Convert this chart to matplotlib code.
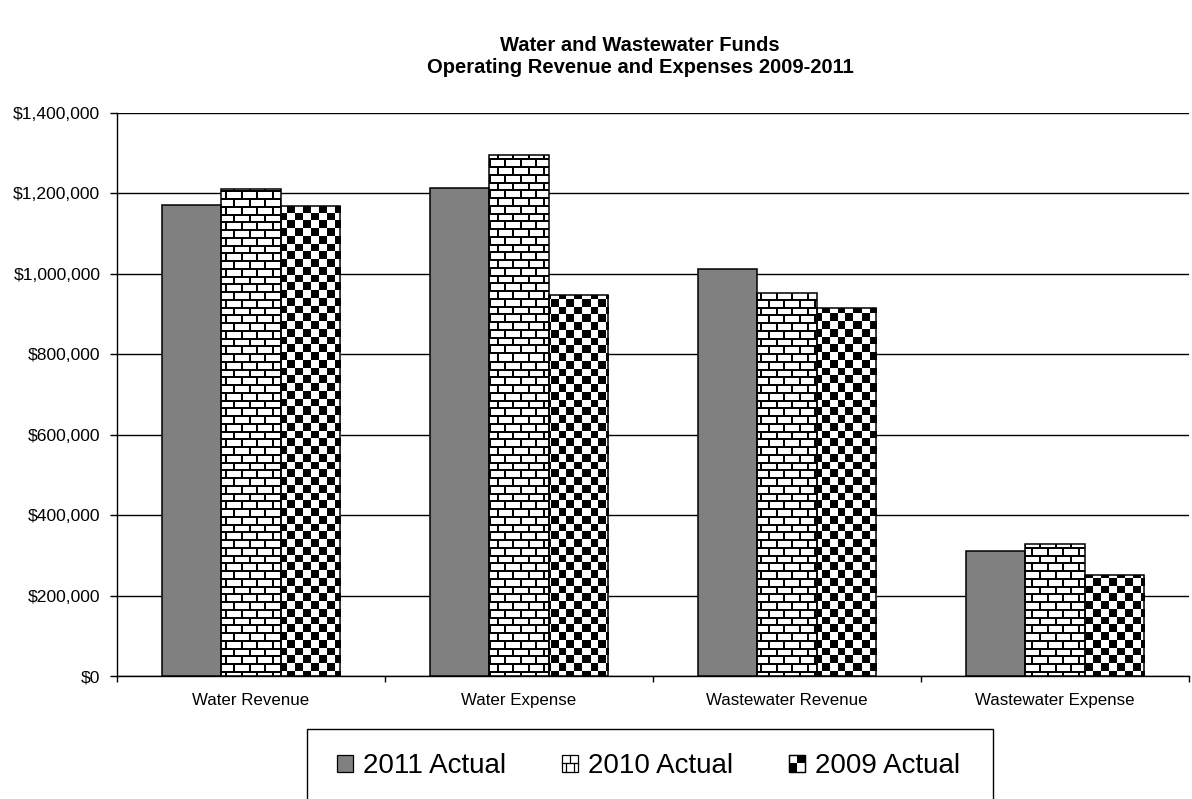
import numpy as np
import matplotlib
matplotlib.use("Agg")
import matplotlib.pyplot as plt
from matplotlib.patches import Rectangle
from matplotlib.lines import Line2D
from matplotlib.legend_handler import HandlerBase
from matplotlib.ticker import FuncFormatter, FixedLocator

plt.rcParams['font.family'] = ['Liberation Sans', 'DejaVu Sans']

# ---- data ----
categories = ["Water Revenue", "Water Expense", "Wastewater Revenue", "Wastewater Expense"]
actual_2011 = [1172000, 1214000, 1012000, 311000]
actual_2010 = [1211000, 1296000, 952000, 328000]
actual_2009 = [1169000, 947000, 916000, 251000]
series_labels = ["2011 Actual", "2010 Actual", "2009 Actual"]
y_ticks = [0, 200000, 400000, 600000, 800000, 1000000, 1200000, 1400000]

title_text = "Water and Wastewater Funds\nOperating Revenue and Expenses 2009-2011"

# ---- figure / axes ----
FW, FH = 1192, 799
fig = plt.figure(figsize=(FW / 100, FH / 100), dpi=100)
ax_left, ax_right, ax_top, ax_bottom = 117, 1189, 113, 676
ax = fig.add_axes([ax_left / FW, 1 - ax_bottom / FH,
                   (ax_right - ax_left) / FW, (ax_bottom - ax_top) / FH])

n = len(categories)
x = np.arange(n)
w = 1 / 4.5
xlim = (-0.5, n - 0.5)
ylim = (0, y_ticks[-1])

# ---- fill textures in screen pixels ----
PW, PH = ax_right - ax_left, ax_bottom - ax_top
yy, xx = np.mgrid[0:PH, 0:PW] + 0.5
cell = 7.75


def brick_texture():
    row = np.floor(yy / cell)
    hline = (yy % cell) < 2.0
    shift = (row % 2) * cell
    vline = ((xx + shift) % (2 * cell)) < 2.0
    dark = hline | vline
    img = np.where(dark, 0.0, 1.0)
    return np.dstack([img, img, img])


def checker_texture():
    dark = ((np.floor(xx / cell) + np.floor(yy / cell)) % 2) == 0
    img = np.where(dark, 0.0, 1.0)
    return np.dstack([img, img, img])


textures = {"brick": brick_texture(), "checker": checker_texture()}

series = [
    (actual_2011, "solid"),
    (actual_2010, "brick"),
    (actual_2009, "checker"),
]
offsets = [-w, 0, w]

for (vals, kind), off in zip(series, offsets):
    face = "#808080" if kind == "solid" else "none"
    bars = ax.bar(x + off, vals, width=w, facecolor=face, edgecolor="black",
                  linewidth=1.1, zorder=3)
    if kind != "solid":
        for b in bars:
            im = ax.imshow(textures[kind], extent=(xlim[0], xlim[1], ylim[0], ylim[1]),
                           origin="upper", aspect="auto", interpolation="nearest",
                           zorder=2.5)
            im.set_clip_path(b)

ax.set_xlim(*xlim)
ax.set_ylim(*ylim)
ax.set_aspect("auto")

# ---- axes styling ----
ax.set_yticks(y_ticks)
ax.yaxis.set_major_formatter(FuncFormatter(lambda v, p: f"${v:,.0f}"))
ax.grid(axis="y", color="black", linewidth=1.0, zorder=1)
ax.set_axisbelow(True)
for s in ["top", "right"]:
    ax.spines[s].set_visible(False)
ax.spines["left"].set_linewidth(1.0)
ax.spines["bottom"].set_linewidth(1.0)
ax.tick_params(axis="y", direction="out", length=5, width=1.0, pad=7,
               labelsize=12.6)

ax.set_xticks(x)
ax.set_xticklabels(categories)
ax.xaxis.set_minor_locator(FixedLocator(np.arange(n + 1) - 0.5))
ax.tick_params(axis="x", which="major", length=0, pad=12, labelsize=12.2)
ax.tick_params(axis="x", which="minor", direction="out", length=4.5, width=1.0)

# ---- title ----
fig.text(640 / FW, 1 - 56.5 / FH, title_text, ha="center", va="center",
         fontsize=14.5, fontweight="bold", linespacing=1.15)


# ---- legend ----
class Swatch(HandlerBase):
    def __init__(self, kind):
        super().__init__()
        self.kind = kind

    def create_artists(self, legend, orig_handle, xdescent, ydescent,
                       width, height, fontsize, trans):
        x0, y0 = -xdescent, -ydescent
        arts = []
        face = "#808080" if self.kind == "solid" else "white"
        arts.append(Rectangle((x0, y0), width, height, facecolor=face,
                              edgecolor="black", linewidth=0.9, transform=trans))
        if self.kind == "brick":
            arts.append(Line2D([x0, x0 + width], [y0 + height / 2] * 2,
                               color="black", lw=0.9, transform=trans))
            arts.append(Line2D([x0 + width / 2] * 2, [y0 + height / 2, y0 + height],
                               color="black", lw=0.9, transform=trans))
            arts.append(Line2D([x0 + width / 4] * 2, [y0, y0 + height / 2],
                               color="black", lw=0.9, transform=trans))
            arts.append(Line2D([x0 + 3 * width / 4] * 2, [y0, y0 + height / 2],
                               color="black", lw=0.9, transform=trans))
        elif self.kind == "checker":
            arts.append(Rectangle((x0 + width / 2, y0 + height / 2), width / 2, height / 2,
                                  facecolor="black", edgecolor="none", transform=trans))
            arts.append(Rectangle((x0, y0), width / 2, height / 2,
                                  facecolor="black", edgecolor="none", transform=trans))
            arts.append(Rectangle((x0, y0), width, height, facecolor="none",
                                  edgecolor="black", linewidth=0.9, transform=trans))
        return arts


handles = [Rectangle((0, 0), 1, 1) for _ in series_labels]
kinds = [k for _, k in series]
handler_map = {h: Swatch(k) for h, k in zip(handles, kinds)}
fig.legend(handles, series_labels, handler_map=handler_map,
           loc="center left", bbox_to_anchor=(337 / FW, 1 - 766 / FH),
           ncol=3, frameon=False, fontsize=20, handlelength=0.58,
           handleheight=0.58, handletextpad=0.36, columnspacing=2.0,
           borderpad=0, borderaxespad=0)

fig.add_artist(Rectangle((307 / FW, -0.05), (993 - 307) / FW, 0.05 + (1 - 729 / FH),
                         transform=fig.transFigure, fill=False,
                         edgecolor="black", linewidth=1.0))

fig.savefig("out.png", dpi=100, facecolor="white")
